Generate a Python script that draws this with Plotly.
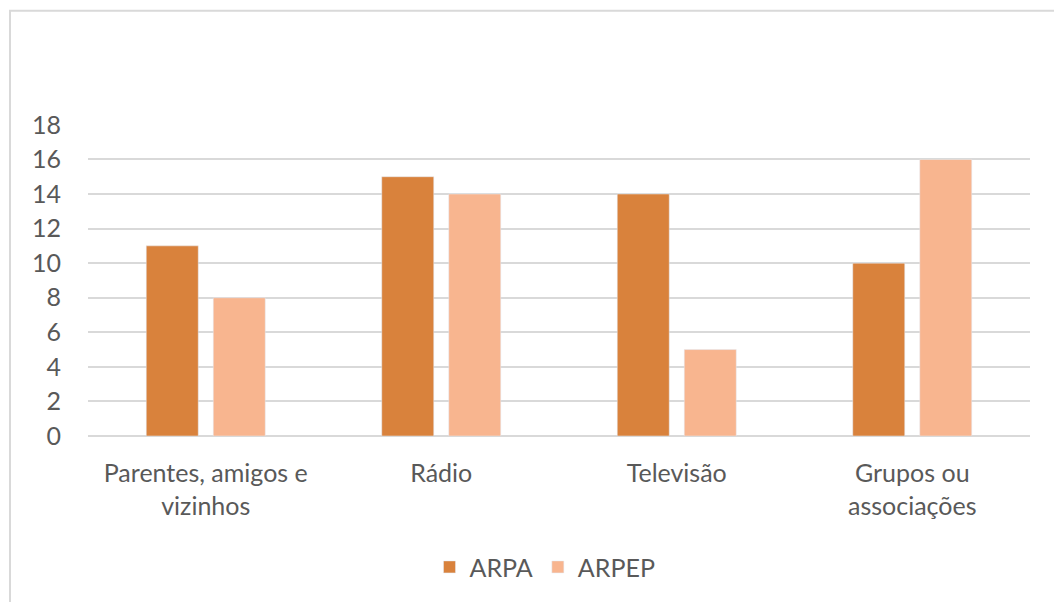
import plotly.graph_objects as go

categories = ["Parentes, amigos e<br>vizinhos", "Rádio", "Televisão", "Grupos ou<br>associações"]
arpa = [11, 15, 14, 10]
arpep = [8, 14, 5, 16]
tick_vals = [0, 2, 4, 6, 8, 10, 12, 14, 16, 18]

# page body has an 8px margin; work in figure coordinates = screen - 8
OFF = 8
W, H = 1062 - 2 * OFF, 610 - 2 * OFF
L, T = 88 - OFF, 124 - OFF
R = W - (1030 - OFF)
B = H - (438 - OFF)
pw, ph = W - L - R, H - T - B

def px_x(x):
    return (x - OFF - L) / pw

def px_y(y):
    return (H - B - (y - OFF)) / ph

font = "Lato, 'Open Sans', sans-serif"
fs = 25
fig = go.Figure()
fig.add_trace(go.Bar(x=categories, y=arpa, name="ARPA", marker_color="#D9823C"))
fig.add_trace(go.Bar(x=categories, y=arpep, name="ARPEP", marker_color="#F8B58F"))

fig.update_layout(
    width=W, height=H,
    margin=dict(l=L, r=R, t=T, b=B),
    paper_bgcolor="white", plot_bgcolor="white",
    barmode="group", bargap=0.431, bargroupgap=0.224,
    font=dict(family=font, size=fs, color="#595959"),
    showlegend=True,
    legend=dict(orientation="h", x=px_x(545), xanchor="center", y=px_y(570), yanchor="middle",
                font=dict(size=fs, color="#595959"), itemwidth=30, traceorder="normal"),
    xaxis=dict(showgrid=False, showline=False, ticks="", ticklabelstandoff=20,
               tickfont=dict(size=fs, color="#595959")),
    yaxis=dict(range=[0, 18.05], tickvals=tick_vals, showgrid=True, gridcolor="#D9D9D9", gridwidth=2,
               zeroline=True, zerolinecolor="#D9D9D9", zerolinewidth=2, showline=False, ticks="",
               ticklabelstandoff=26, tickfont=dict(size=fs, color="#595959")),
    shapes=[dict(type="rect", xref="paper", yref="paper",
                 x0=px_x(10), x1=px_x(1200), y0=px_y(800), y1=px_y(10),
                 line=dict(color="#D9D9D9", width=2), fillcolor="rgba(0,0,0,0)", layer="below")],
)
fig.write_html("out.html")
